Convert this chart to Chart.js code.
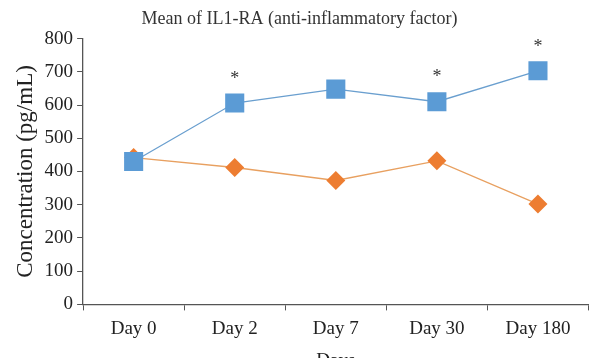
<!DOCTYPE html>
<html>
<head>
<meta charset="utf-8">
<script src="https://cdn.jsdelivr.net/npm/chart.js@4"></script>
<style>
  html, body { margin: 0; padding: 0; background: #fff; overflow: hidden; }
  #wrap { width: 602px; height: 376px; }
</style>
</head>
<body>
<div id="wrap"><canvas id="il1ra-chart" width="602" height="376"></canvas></div>
<script>
const days = ['Day 0', 'Day 2', 'Day 7', 'Day 30', 'Day 180'];
const il1raBlue = [430, 606, 648, 610, 703];
const il1raOrange = [442, 412, 373, 432, 302];
const significant = [false, true, false, true, true];

const serif = '"Liberation Serif", "DejaVu Serif", serif';
const axisColor = '#555';

// little asterisks above the significant points of the blue series
const starPlugin = {
    id: 'stars',
    afterDatasetsDraw(chart) {
        const ctx = chart.ctx;
        const meta = chart.getDatasetMeta(0);
        ctx.save();
        ctx.fillStyle = '#333';
        ctx.font = '18px ' + serif;
        ctx.textAlign = 'center';
        ctx.textBaseline = 'middle';
        meta.data.forEach(function(pt, i) {
            if (significant[i]) ctx.fillText('*', pt.x, pt.y - 24);
        });
        ctx.restore();
    }
};

window.onload = function() {
    const ctx = document.getElementById('il1ra-chart').getContext('2d');
    new Chart(ctx, {
        type: 'line',
        data: {
            labels: days,
            datasets: [{
                label: 'Group A',
                data: il1raBlue,
                borderColor: '#6a9fcf',
                backgroundColor: '#5b9bd5',
                borderWidth: 1.3,
                pointStyle: 'rect',
                pointRadius: 13.5,
                pointHoverRadius: 13.5,
                pointBorderWidth: 0,
                fill: false
            }, {
                label: 'Group B',
                data: il1raOrange,
                borderColor: '#e8a060',
                backgroundColor: '#ed7d31',
                borderWidth: 1.3,
                pointStyle: 'rectRot',
                pointRadius: 9.5,
                pointHoverRadius: 9.5,
                pointBorderWidth: 0,
                fill: false
            }]
        },
        options: {
            responsive: false,
            animation: false,
            layout: { padding: { top: 5, right: 11, left: 8, bottom: 0 } },
            plugins: {
                legend: { display: false },
                tooltip: { enabled: false },
                title: {
                    display: true,
                    text: 'Mean of IL1-RA (anti-inflammatory factor)',
                    color: '#333',
                    font: { family: serif, size: 18, weight: 'normal' },
                    padding: { top: 3, bottom: 9 }
                }
            },
            scales: {
                x: {
                    offset: true,
                    grid: {
                        offset: true,
                        drawOnChartArea: false,
                        tickLength: 6,
                        color: axisColor
                    },
                    border: { color: axisColor, width: 1.3 },
                    ticks: {
                        color: '#222',
                        font: { family: serif, size: 19 },
                        padding: 7
                    },
                    title: {
                        display: true,
                        text: 'Days',
                        color: '#222',
                        font: { family: serif, size: 19 },
                        padding: { top: 2 }
                    }
                },
                y: {
                    min: 0,
                    max: 800,
                    grid: {
                        drawOnChartArea: false,
                        tickLength: 6,
                        color: axisColor
                    },
                    border: { color: axisColor, width: 1.3 },
                    ticks: {
                        stepSize: 100,
                        color: '#222',
                        font: { family: serif, size: 19 },
                        padding: 4
                    },
                    title: {
                        display: true,
                        text: 'Concentration (pg/mL)',
                        color: '#222',
                        font: { family: serif, size: 23 },
                        padding: { bottom: 1 }
                    }
                }
            }
        },
        plugins: [starPlugin]
    });
};
</script>
</body>
</html>
